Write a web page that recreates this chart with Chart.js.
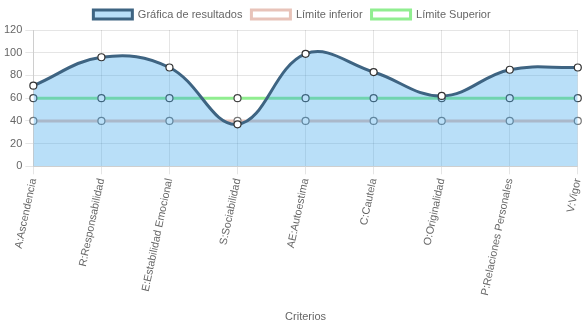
<!DOCTYPE html>
<html>
<head>
<meta charset="utf-8">
<script src="https://cdn.jsdelivr.net/npm/chart.js@4"></script>
<style>
html,body{margin:0;padding:0;background:#fff;}
#wrap{width:583px;height:328px;position:relative;}
</style>
</head>
<body>
<div id="wrap"><canvas id="c"></canvas></div>
<script>
const categories = ["A:Ascendencia","R:Responsabilidad","E:Estabilidad Emocional","S:Sociabilidad","AE:Autoestima","C:Cautela","O:Originalidad","P:Relaciones Personales","V:Vigor"];
const resultados = [71, 96, 87, 37, 99, 83, 62, 85, 87];
const limiteInferior = [40, 40, 40, 40, 40, 40, 40, 40, 40];
const limiteSuperior = [60, 60, 60, 60, 60, 60, 60, 60, 60];
const yTicks = {min: 0, max: 120, step: 20};

Chart.defaults.font.family = "'Liberation Sans', Arial, sans-serif";
Chart.defaults.font.size = 11;
Chart.defaults.color = "#666";

new Chart(document.getElementById('c'), {
  type: 'line',
  data: {
    labels: categories,
    datasets: [
      {
        label: 'Gráfica de resultados',
        data: resultados,
        borderColor: '#3e6482',
        backgroundColor: 'rgba(54,162,235,0.35)',
        borderWidth: 3,
        fill: 'origin',
        tension: 0.4,
        pointRadius: 3.5,
        pointBackgroundColor: '#fff',
        pointBorderColor: '#333',
        pointBorderWidth: 1.2
      },
      {
        label: 'Límite inferior',
        data: limiteInferior,
        borderColor: '#e8c3b9',
        backgroundColor: '#fff',
        borderWidth: 3,
        fill: false,
        tension: 0.4,
        pointRadius: 3.5,
        pointBackgroundColor: '#fff',
        pointBorderColor: '#777',
        pointBorderWidth: 1.2
      },
      {
        label: 'Límite Superior',
        data: limiteSuperior,
        borderColor: '#90ee90',
        backgroundColor: '#fff',
        borderWidth: 3,
        fill: false,
        tension: 0.4,
        pointRadius: 3.5,
        pointBackgroundColor: '#fff',
        pointBorderColor: '#444',
        pointBorderWidth: 1.2
      }
    ]
  },
  options: {
    responsive: true,
    maintainAspectRatio: false,
    animation: false,
    layout: { padding: { right: 0, left: 1 } },
    plugins: {
      legend: {
        position: 'top',
        labels: { boxWidth: 39, boxHeight: 9, padding: 9, color: '#666', font: { size: 11 } }
      },
      tooltip: { enabled: false }
    },
    scales: {
      x: {
        grid: { color: 'rgba(0,0,0,0.1)', tickLength: 8 },
        ticks: { minRotation: 78, maxRotation: 78, autoSkip: false, color: '#666', font: { size: 10.7 } },
        title: { display: true, text: 'Criterios', color: '#666', font: { size: 11 }, padding: { top: 11, bottom: 4 } },
        afterFit: function (scale) { scale.paddingRight = 0; }
      },
      y: {
        min: yTicks.min,
        max: yTicks.max,
        grid: { color: 'rgba(0,0,0,0.1)', tickLength: 8 },
        ticks: { stepSize: yTicks.step, color: '#666', font: { size: 11 } }
      }
    }
  }
});
</script>
</body>
</html>
